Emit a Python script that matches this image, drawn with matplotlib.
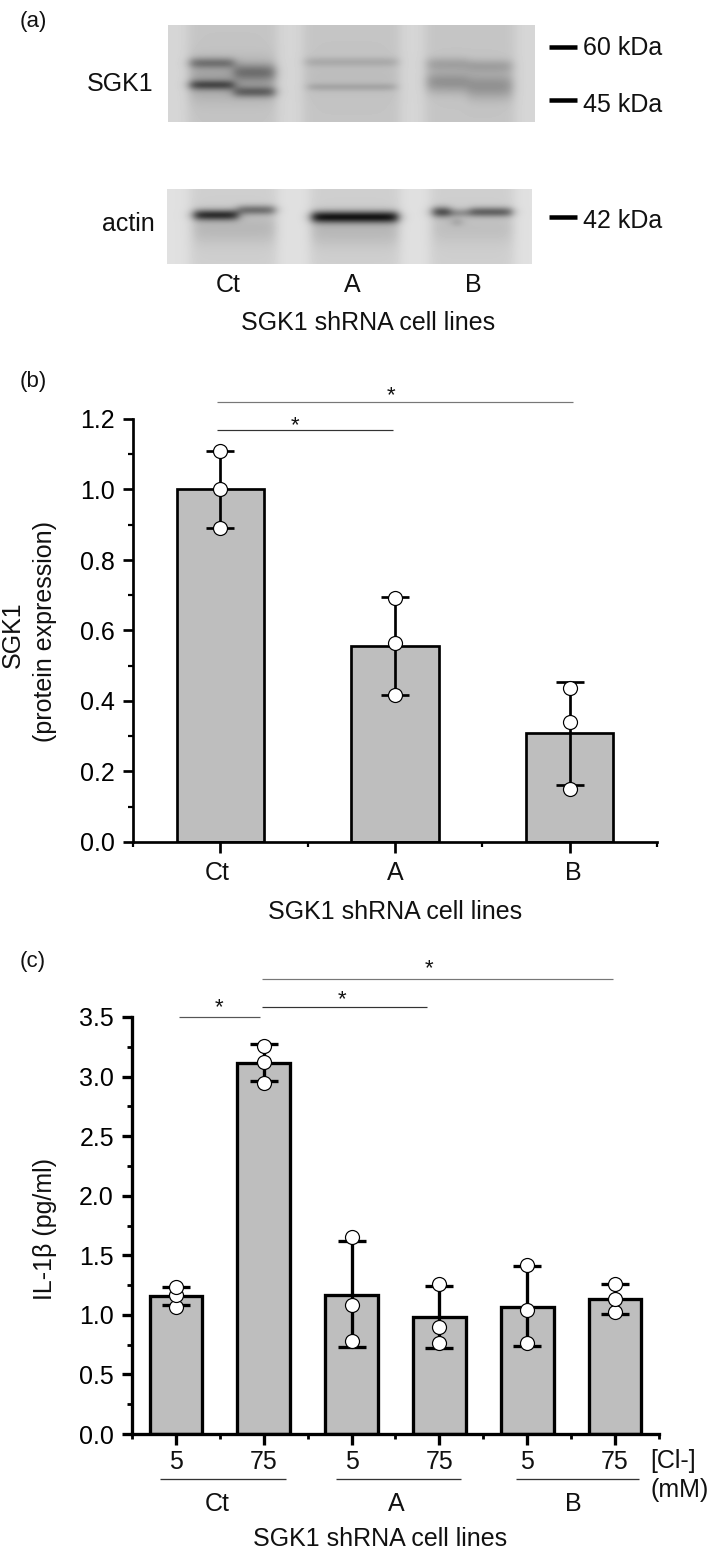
import numpy as np
import matplotlib
matplotlib.use("Agg")
import matplotlib.pyplot as plt

plt.rcParams['font.family'] = ['Liberation Sans', 'DejaVu Sans']

W, H = 709, 1553

# panel (b)
b_labels = ['Ct', 'A', 'B']
b_means = [1.0, 0.557, 0.31]
b_low = [0.89, 0.417, 0.163]
b_high = [1.11, 0.695, 0.455]
b_points = [[0.89, 1.0, 1.11], [0.416, 0.565, 0.693], [0.15, 0.34, 0.437]]

# panel (c)
c_labels = ['5', '75', '5', '75', '5', '75']
c_groups = ['Ct', 'A', 'B']
c_means = [1.16, 3.11, 1.17, 0.98, 1.07, 1.13]
c_low = [1.08, 2.96, 0.73, 0.72, 0.74, 1.01]
c_high = [1.23, 3.27, 1.62, 1.24, 1.41, 1.26]
c_points = [[1.07, 1.17, 1.23], [2.95, 3.12, 3.26], [0.78, 1.08, 1.65],
            [0.76, 0.90, 1.26], [0.76, 1.04, 1.42], [1.02, 1.13, 1.26]]

# blot bands: x0, x1, y, thickness, darkness (pixels of the figure)
sgk1_bands = [(190, 234, 63, 5.5, 0.26), (190, 234, 85, 5, 0.36), (234, 275, 72, 8, 0.22),
              (234, 275, 92, 5.5, 0.30), (190, 275, 80, 20, 0.14),
              (305, 398, 62, 5, 0.09), (308, 396, 87, 4, 0.10), (305, 398, 78, 18, 0.03),
              (427, 468, 64, 7, 0.13), (427, 468, 82, 11, 0.20), (468, 512, 66, 7, 0.13),
              (468, 512, 86, 13, 0.20)]
actin_bands = [(194, 238, 215, 5.5, 0.58), (238, 275, 210, 5, 0.34),
               (312, 398, 217, 6, 0.68), (433, 450, 212, 5.5, 0.50),
               (470, 512, 212, 5, 0.40), (450, 470, 213, 4.5, 0.20), (453, 461, 222, 4.5, 0.14),
               (194, 275, 228, 16, 0.09), (312, 398, 230, 16, 0.09), (433, 512, 228, 16, 0.06)]


def px(x):
    return x * 72 / 100


def blot(ax, bands, x0, x1, y0, y1, base, lanes):
    xs = np.arange(x0, x1) + 0.5
    ys = np.arange(y0, y1) + 0.5
    X, Y = np.meshgrid(xs, ys)
    img = np.full(X.shape, base)
    # lanes are a bit darker than the gaps between them
    for a, b in lanes:
        img -= 0.07 * 0.25 * (np.tanh((X - a) / 7) + 1) * (1 - np.tanh((X - b) / 7))
    for a, b, yc, t, d in bands:
        img -= d * 0.25 * (np.tanh((X - a) / 6) + 1) * (1 - np.tanh((X - b) / 6)) * np.exp(-((Y - yc) / t) ** 2)
    ax.imshow(img, cmap='gray', vmin=0, vmax=1, extent=(x0, x1, y1, y0), aspect='auto',
              interpolation='bilinear', zorder=1)


def bar_panel(rect, means, low, high, points, width, ylim, major, minor, lw):
    left, right, top, bottom = rect
    ax = fig.add_axes([left / W, 1 - bottom / H, (right - left) / W, (bottom - top) / H])
    xpos = np.arange(len(means)) + 0.5
    ax.bar(xpos, means, width=width, color='#BEBEBE', edgecolor='black', linewidth=px(lw), zorder=2)
    for i, x in enumerate(xpos):
        ax.errorbar(x, means[i], yerr=[[means[i] - low[i]], [high[i] - means[i]]], color='black',
                    elinewidth=px(lw), capsize=px(14), capthick=px(lw), zorder=3, clip_on=False)
        ax.scatter([x] * 3, points[i], s=px(14) ** 2, facecolor='white', edgecolor='black',
                   linewidth=px(1.2), zorder=4, clip_on=False)
    ax.set_xlim(0, len(means))
    ax.set_ylim(*ylim)
    ax.set_xticks(xpos)
    ax.set_xticks(np.arange(len(means) + 1), minor=True)
    ax.set_xticklabels([])
    ax.set_yticks(major)
    ax.set_yticks(minor, minor=True)
    ax.tick_params(axis='y', which='major', labelsize=18, width=px(lw), length=px(10), pad=px(8))
    ax.tick_params(axis='y', which='minor', width=px(lw - 0.5), length=px(5))
    ax.tick_params(axis='x', which='major', width=px(lw), length=px(11))
    ax.tick_params(axis='x', which='minor', width=px(lw - 0.5), length=px(5))
    ax.spines['top'].set_visible(False)
    ax.spines['right'].set_visible(False)
    ax.spines['left'].set_linewidth(px(lw))
    ax.spines['bottom'].set_linewidth(px(lw))
    ax.patch.set_alpha(0)
    return ax


fig = plt.figure(figsize=(W / 100, H / 100), dpi=100, facecolor='white')

# overlay in figure pixels for blots, labels and significance lines
ov = fig.add_axes([0, 0, 1, 1])
ov.set_xlim(0, W)
ov.set_ylim(H, 0)
ov.axis('off')

blot(ov, sgk1_bands, 168, 535, 25, 122, 0.84, [(188, 277), (303, 400), (425, 515)])
blot(ov, actin_bands, 167, 532, 189, 264, 0.88, [(190, 277), (310, 400), (430, 514)])
ov.set_xlim(0, W)
ov.set_ylim(H, 0)


def label(x, y, s, ha='center', size=18, **kw):
    ov.text(x, y, s, ha=ha, va='center', fontsize=size, color='#111111', **kw)


def sig(x0, x1, y, xs, ys, color='#555555'):
    ov.plot([x0, x1], [y, y], color=color, lw=px(1.2), solid_capstyle='butt')
    ov.text(xs, ys, '*', ha='center', va='center', fontsize=16, color='#111111')


# panel a
label(20, 21, '(a)', ha='left', size=16)
label(153, 84, 'SGK1', ha='right')
label(155, 224, 'actin', ha='right')
for y, yt, s in [(47, 48, '60 kDa'), (100, 105, '45 kDa'), (217, 221, '42 kDa')]:
    ov.plot([549, 577], [y, y], color='black', lw=px(4.5), solid_capstyle='butt')
    label(583, yt, s, ha='left')
for x, s in zip([228, 352, 473], b_labels):
    label(x, 285, s)
label(368, 323, 'SGK1 shRNA cell lines')

# panel b
bar_panel((133, 657, 419, 842), b_means, b_low, b_high, b_points, 0.5, (0, 1.2),
          [0, 0.2, 0.4, 0.6, 0.8, 1.0, 1.2], [0.1, 0.3, 0.5, 0.7, 0.9, 1.1], 2.7)
label(20, 381, '(b)', ha='left', size=16)
sig(217, 573, 402, 391, 396, '#777777')
sig(217, 393, 430, 295, 426, '#333333')
label(13, 635, 'SGK1', rotation=90)
label(45, 632, '(protein expression)', rotation=90)
for x, s in zip([217, 395, 573], b_labels):
    label(x, 873, s)
label(395, 912, 'SGK1 shRNA cell lines')

# panel c
bar_panel((132, 659, 1017, 1434), c_means, c_low, c_high, c_points, 0.6, (0, 3.5),
          [0, 0.5, 1.0, 1.5, 2.0, 2.5, 3.0, 3.5], [0.25, 0.75, 1.25, 1.75, 2.25, 2.75, 3.25], 3.3)
label(20, 961, '(c)', ha='left', size=16)
sig(262, 613, 979, 429, 969, '#777777')
sig(262, 427, 1007, 342, 1000, '#333333')
sig(179, 260, 1017, 219, 1008, '#555555')
label(45, 1229, 'IL-1β (pg/ml)', rotation=90)
for i, s in enumerate(c_labels):
    label(176 + 87.8 * i, 1462, s)
for (x0, x1), xt, s in zip([(160, 286), (336, 461), (516, 639)], [217, 396, 573], c_groups):
    ov.plot([x0, x1], [1479, 1479], color='#333333', lw=px(1.3), solid_capstyle='butt')
    label(xt, 1504, s)
label(650, 1461, '[Cl-]', ha='left')
label(650, 1490, '(mM)', ha='left')
label(380, 1539, 'SGK1 shRNA cell lines')

fig.savefig('out.png', dpi=100)
